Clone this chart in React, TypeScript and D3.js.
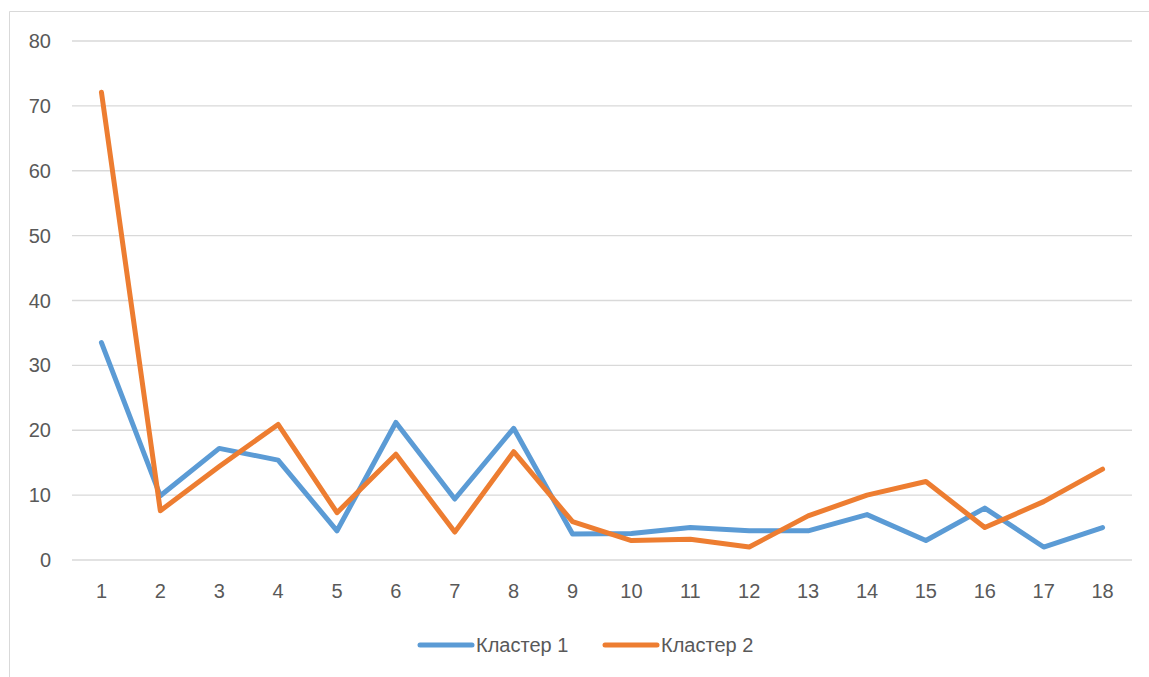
import React, { useEffect, useRef } from "react";
import * as d3 from "d3";

const categories = ["1", "2", "3", "4", "5", "6", "7", "8", "9", "10", "11", "12", "13", "14", "15", "16", "17", "18"];
const cluster1 = [33.5, 9.9, 17.2, 15.4, 4.5, 21.2, 9.4, 20.3, 4.0, 4.1, 5.0, 4.5, 4.5, 7.0, 3.0, 8.0, 2.0, 5.0];
const cluster2 = [72.1, 7.6, 14.4, 20.9, 7.3, 16.3, 4.3, 16.7, 5.9, 3.0, 3.2, 2.0, 6.8, 10.0, 12.1, 5.0, 9.0, 14.0];
const yTicks = [0, 10, 20, 30, 40, 50, 60, 70, 80];

const series = [
  { name: "Кластер 1", values: cluster1, color: "#5B9BD5" },
  { name: "Кластер 2", values: cluster2, color: "#ED7D31" },
];

const W = 1149;
const H = 677;
const FONT = "'Liberation Sans', 'DejaVu Sans', sans-serif";

export default function App() {
  const svgRef = useRef<SVGSVGElement>(null);

  useEffect(() => {
    if (!svgRef.current) return;
    const svg = d3.select(svgRef.current);
    svg.selectAll("*").remove();

    const left = 72;
    const right = 1132;
    const top = 41;
    const bottom = 560;

    // chart frame (only top & left edges visible)
    svg.append("path")
      .attr("d", `M9.5,${H + 2} V11.5 H${W + 2}`)
      .attr("fill", "none")
      .attr("stroke", "#D9D9D9")
      .attr("stroke-width", 1);

    const x = d3.scaleBand().domain(categories).range([left, right]);
    const y = d3.scaleLinear().domain([0, 80]).range([bottom, top]);

    // gridlines
    svg.append("g")
      .selectAll("line")
      .data(yTicks)
      .enter()
      .append("line")
      .attr("x1", left)
      .attr("x2", right)
      .attr("y1", (d) => y(d))
      .attr("y2", (d) => y(d))
      .attr("stroke", "#D9D9D9")
      .attr("stroke-width", 1.3);

    // y labels
    svg.append("g")
      .selectAll("text")
      .data(yTicks)
      .enter()
      .append("text")
      .attr("x", 51)
      .attr("y", (d) => y(d))
      .attr("dy", "0.35em")
      .attr("text-anchor", "end")
      .attr("font-family", FONT)
      .attr("font-size", 20)
      .attr("fill", "#595959")
      .text((d) => d);

    // x labels
    svg.append("g")
      .selectAll("text")
      .data(categories)
      .enter()
      .append("text")
      .attr("x", (d) => x(d)! + x.bandwidth() / 2)
      .attr("y", 591)
      .attr("dy", "0.35em")
      .attr("text-anchor", "middle")
      .attr("font-family", FONT)
      .attr("font-size", 20)
      .attr("fill", "#595959")
      .text((d) => d);

    const line = d3
      .line<number>()
      .x((_, i) => x(categories[i])! + x.bandwidth() / 2)
      .y((d) => y(d));

    series.forEach((s) => {
      svg.append("path")
        .datum(s.values)
        .attr("fill", "none")
        .attr("stroke", s.color)
        .attr("stroke-width", 5)
        .attr("stroke-linejoin", "round")
        .attr("stroke-linecap", "round")
        .attr("d", line);
    });

    // legend
    const legendX = [420, 605];
    series.forEach((s, i) => {
      const g = svg.append("g").attr("transform", `translate(${legendX[i]},645)`);
      g.append("line")
        .attr("x1", 0)
        .attr("x2", 52)
        .attr("stroke", s.color)
        .attr("stroke-width", 5)
        .attr("stroke-linecap", "round");
      g.append("text")
        .attr("x", 56)
        .attr("dy", "0.35em")
        .attr("font-family", FONT)
        .attr("font-size", 20)
        .attr("fill", "#595959")
        .text(s.name);
    });
  }, []);

  return (
    <svg
      ref={svgRef}
      width={W}
      height={H}
      style={{ position: "absolute", left: 0, top: 0, background: "#fff" }}
    />
  );
}
